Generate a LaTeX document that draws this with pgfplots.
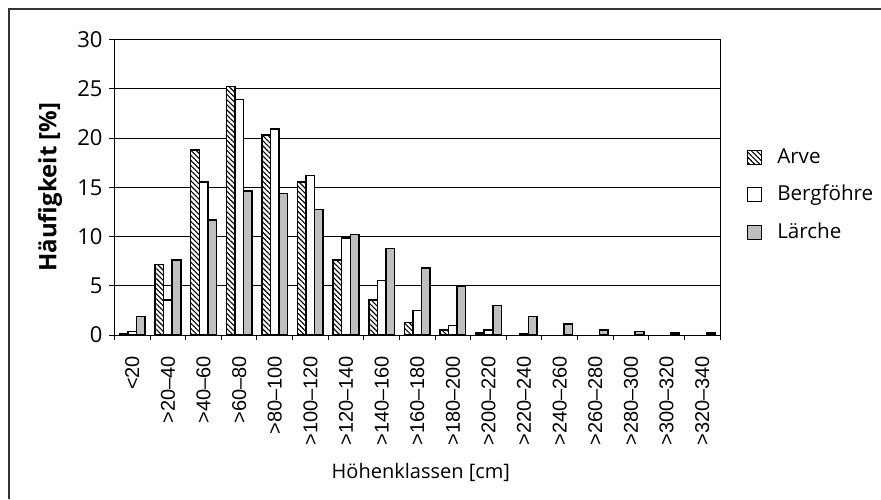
\documentclass[border=0pt]{standalone}
\usepackage{fontspec}
\setmainfont{Open Sans}
\newfontfamily\arial{Liberation Sans}
\usepackage{pgfplots}
\pgfplotsset{compat=1.18}
\usetikzlibrary{patterns.meta}
\pgfplotsset{ybar legend/.style={legend image code/.code={\draw[##1, line width=0.6pt, draw=black] (0pt,-3.5pt) rectangle (7pt,3.5pt);}}}
\begin{document}
\begin{tikzpicture}
\useasboundingbox (0,0) rectangle (440.5pt,249.5pt);
\draw[line width=0.6pt, black!80] (4.5pt,0) -- (4.5pt,245pt) -- (440.5pt,245pt);
\begin{axis}[
  at={(57.25pt,82pt)}, anchor=south west,
  scale only axis, width=302.75pt, height=147.75pt,
  ymin=0, ymax=30, ytick={0,5,...,30},
  xmin=-0.5, xmax=16.5,
  xtick={0,...,16},
  xticklabels={{<20},{>20–40},{>40–60},{>60–80},{>80–100},{>100–120},{>120–140},{>140–160},{>160–180},{>180–200},{>200–220},{>220–240},{>240–260},{>260–280},{>280–300},{>300–320},{>320–340}},
  major x tick style={draw=none},
  minor xtick={-0.5,0.5,...,16.5},
  minor tick length=2.5pt, major tick length=2.5pt,
  tick align=outside,
  xtick pos=bottom, ytick pos=left,
  tick style={black, line width=0.5pt},
  ymajorgrids, grid style={black, line width=0.5pt},
  axis line style={black, line width=0.5pt},
  /pgf/number format/assume math mode=true,
  yticklabel style={font=\fontsize{11}{12}\selectfont},
  xticklabel shift=4.5pt,
  xticklabel style={rotate=90, anchor=east, font=\arial\fontsize{10}{11}\selectfont},
  ylabel={Häufigkeit [\%]},
  ylabel style={at={(axis description cs:-0.1065,0.5)}, anchor=center, font=\bfseries\fontsize{12}{14}\selectfont},
  xlabel={Höhenklassen [cm]},
  xlabel style={at={(axis description cs:0.506,-0.4636)}, anchor=center, font=\fontsize{10}{12}\selectfont},
  ybar=0pt, bar width=0.24,
  legend style={at={(axis description cs:1.044,0.4738)}, anchor=west, draw=none, fill=none,
    font=\fontsize{10.3}{12}\selectfont, row sep=5.5pt, inner sep=0pt,
    /tikz/every odd column/.append style={column sep=5.5pt}},
  legend cell align=left,
]
\addplot[bar shift=-0.24, draw=black, line width=0.75pt, preaction={fill=white},
  pattern={Lines[angle=-45,distance=1.8pt,line width=0.55pt]}] coordinates {
  (0,0.17) (1,7.14) (2,18.8) (3,25.25) (4,20.3) (5,15.55) (6,7.6) (7,3.57) (8,1.28) (9,0.5) (10,0.22)};
\addlegendentry{Arve}
\addplot[bar shift=0, draw=black, line width=0.75pt, fill=white] coordinates {
  (0,0.34) (1,3.57) (2,15.55) (3,23.9) (4,20.9) (5,16.2) (6,9.86) (7,5.54) (8,2.5) (9,0.95) (10,0.5) (11,0.15)};
\addlegendentry{Bergföhre}
\addplot[bar shift=0.24, draw=black, line width=0.75pt, fill=black!25] coordinates {
  (0,1.87) (1,7.6) (2,11.7) (3,14.6) (4,14.35) (5,12.75) (6,10.2) (7,8.8) (8,6.78) (9,5.0) (10,3.0) (11,1.9) (12,1.12) (13,0.5) (14,0.35) (15,0.22) (16,0.2)};
\addlegendentry{Lärche}
\end{axis}
\end{tikzpicture}
\end{document}
